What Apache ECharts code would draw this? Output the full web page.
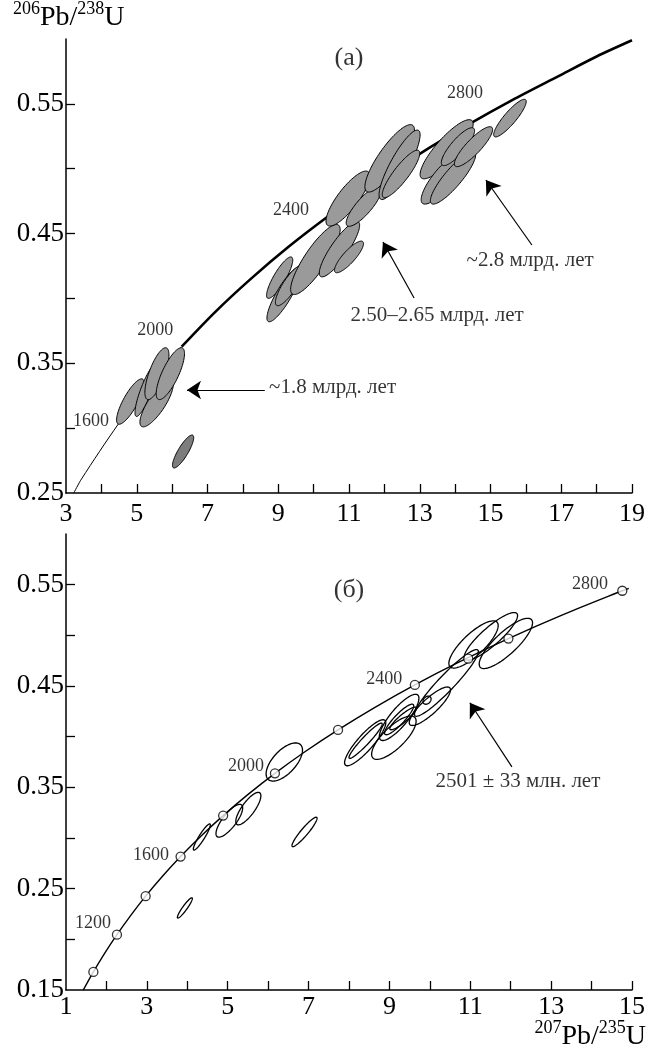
<!DOCTYPE html>
<html>
<head>
<meta charset="utf-8">
<script src="https://cdn.jsdelivr.net/npm/echarts@6/dist/echarts.min.js"></script>
<style>
html,body{margin:0;padding:0;background:#fff;}
#chart{width:656px;height:1048px;}
</style>
</head>
<body>
<div id="chart"></div>
<script>
// ---------- DATA ----------
// Panel (a): concordia curve
const curveA_x = [3.22, 3.44, 4.48, 5.30, 6.27, 7.20, 8.20, 9.30, 10.46, 11.70, 13.00, 14.42, 15.60, 16.91, 18.00, 19.00];
const curveA_y = [0.250, 0.2609, 0.3032, 0.3325, 0.3628, 0.3891, 0.4145, 0.4400, 0.4643, 0.4883, 0.5115, 0.5347, 0.5527, 0.5712, 0.5865, 0.5990];
const curveA_thickFrom = 6.27;
// Panel (a) error ellipses: [207Pb/235U, 206Pb/238U, err x, err y, rho]
const ellipsesA = [
  [4.82, 0.3205, 0.39, 0.0175, 0.81],
  [5.26, 0.329, 0.31, 0.020, 0.85],
  [5.56, 0.319, 0.47, 0.018, 0.80],
  [5.57, 0.342, 0.34, 0.020, 0.72],
  [5.95, 0.342, 0.40, 0.020, 0.77],
  [9.04, 0.416, 0.37, 0.016, 0.85],
  [9.16, 0.403, 0.48, 0.021, 0.86],
  [9.32, 0.410, 0.40, 0.0156, 0.83],
  [10.05, 0.430, 0.70, 0.027, 0.85],
  [10.73, 0.438, 0.57, 0.0214, 0.86],
  [11.00, 0.432, 0.41, 0.0122, 0.84],
  [10.97, 0.477, 0.62, 0.0212, 0.82],
  [11.42, 0.471, 0.50, 0.0154, 0.83],
  [12.15, 0.508, 0.70, 0.026, 0.84],
  [12.43, 0.503, 0.58, 0.0268, 0.86],
  [12.47, 0.496, 0.53, 0.0183, 0.87],
  [13.76, 0.515, 0.75, 0.0228, 0.85],
  [13.63, 0.492, 0.59, 0.0193, 0.82],
  [13.94, 0.493, 0.64, 0.0203, 0.87],
  [14.08, 0.517, 0.47, 0.0146, 0.84],
  [14.52, 0.517, 0.54, 0.0154, 0.86],
  [15.55, 0.539, 0.46, 0.0145, 0.88]
];
const ellipsesA_discordant = [
  [6.31, 0.282, 0.30, 0.0127, 0.84]
];
// Panel (a) labels: [x, y, text]
const ageLabelsA = [[3.71, 0.3055, '1600'], [5.52, 0.3757, '2000'], [9.36, 0.4682, '2400'], [14.28, 0.5584, '2800']];
const notesA = [[13.49, 0.3872, '2.50–2.65 млрд. лет'], [16.12, 0.4296, '~2.8 млрд. лет']];
const notesA_left = [[8.74, 0.331, '~1.8 млрд. лет']];
const panelA = [[11.0, 0.5854, '(а)']];
const arrowsA = [
  [[8.62, 0.3294], [6.42, 0.3294]],
  [[12.84, 0.4003], [11.96, 0.4435]],
  [[16.17, 0.4412], [14.87, 0.4913]]
];

// Panel (б): concordia points (100 Ma steps)
const curveB_x = [1.426, 1.677, 1.955, 2.260, 2.598, 2.970, 3.381, 3.834, 4.335, 4.887, 5.496, 6.168, 6.910, 7.729, 8.632, 9.629, 10.729, 11.943, 13.282, 14.760, 14.92];
const curveB_y = [0.1498, 0.1678, 0.1861, 0.2046, 0.2234, 0.2426, 0.2620, 0.2817, 0.3018, 0.3221, 0.3428, 0.3638, 0.3851, 0.4067, 0.4287, 0.4511, 0.4737, 0.4968, 0.5202, 0.5440, 0.5464];
// Concordia age markers (1000…2800 Ma, every 200 Ma) and intercept marker
const markersB_x = [1.677, 2.260, 2.970, 3.834, 4.887, 6.168, 7.729, 9.629, 11.943, 14.760, 10.95];
const markersB_y = [0.1678, 0.2046, 0.2426, 0.2817, 0.3221, 0.3638, 0.4067, 0.4511, 0.4968, 0.5440, 0.477];
const ellipsesB = [
  [3.94, 0.231, 0.185, 0.0100, 0.93],
  [4.36, 0.301, 0.21, 0.0129, 0.92],
  [5.04, 0.317, 0.33, 0.0162, 0.78],
  [5.51, 0.329, 0.31, 0.0160, 0.79],
  [6.90, 0.306, 0.31, 0.0145, 0.93],
  [6.40, 0.375, 0.45, 0.0188, 0.62],
  [8.40, 0.394, 0.51, 0.0227, 0.87],
  [8.41, 0.396, 0.41, 0.0174, 0.95],
  [9.11, 0.399, 0.55, 0.0214, 0.76],
  [9.24, 0.419, 0.49, 0.0228, 0.83],
  [9.24, 0.417, 0.36, 0.0151, 0.89],
  [9.34, 0.418, 0.33, 0.0112, 0.90],
  [10.00, 0.430, 0.51, 0.0190, 0.85],
  [9.93, 0.436, 0.10, 0.0040, 0.30],
  [10.41, 0.453, 0.79, 0.0329, 0.94],
  [11.08, 0.491, 0.61, 0.0233, 0.80],
  [11.51, 0.499, 0.66, 0.0235, 0.87],
  [11.88, 0.492, 0.66, 0.0248, 0.82]
];
const ageLabelsB = [[1.67, 0.2162, '1200'], [3.10, 0.2833, '1600'], [5.45, 0.3712, '2000'], [8.87, 0.4562, '2400'], [13.96, 0.550, '2800']];
const notesB = [[12.18, 0.3554, '2501 ± 33 млн. лет']];
const panelB = [[8.0, 0.5441, '(б)']];
const arrowsB = [[[12.03, 0.3702], [10.99, 0.4335]]];

// Axes ticks / labels
const xTicksA = [4,5,6,7,8,9,10,11,12,13,14,15,16,17,18,19];
const xLabelsA = [3,5,7,9,11,13,15,17,19];
const yTicksA = [0.30,0.35,0.40,0.45,0.50,0.55];
const yLabelsA = [0.25,0.35,0.45,0.55];
const xTicksB = [2,3,4,5,6,7,8,9,10,11,12,13,14,15];
const xLabelsB = [1,3,5,7,9,11,13,15];
const yTicksB = [0.20,0.25,0.30,0.35,0.40,0.45,0.50,0.55];
const yLabelsB = [0.15,0.25,0.35,0.45,0.55];

// ---------- CHART ----------
const FONT = "'Liberation Serif','Times New Roman',serif";
const chart = echarts.init(document.getElementById('chart'), null, {renderer: 'canvas'});

function zip(xs, ys) { return xs.map((x, i) => [x, ys[i]]); }

function ellipseRenderer(fill, lw) {
  return function (params, api) {
    const cx = api.value(0), cy = api.value(1), sx = api.value(2), sy = api.value(3), r = api.value(4);
    const q = Math.sqrt(1 - r * r);
    const pts = [];
    const N = 90;
    for (let i = 0; i < N; i++) {
      const t = i / N * 2 * Math.PI;
      pts.push(api.coord([cx + sx * Math.cos(t), cy + sy * (r * Math.cos(t) + q * Math.sin(t))]));
    }
    return {type: 'polygon', shape: {points: pts}, style: {fill: fill, stroke: '#000', lineWidth: lw}};
  };
}

function xAxis(idx, min, max, ticks, labels, margin) {
  return {
    gridIndex: idx, type: 'value', min: min, max: max, interval: 1,
    axisLine: {show: true, onZero: false, lineStyle: {color: '#000', width: 1.5}},
    axisTick: {show: true, inside: true, length: 9, customValues: ticks, lineStyle: {color: '#000', width: 1.3}},
    axisLabel: {show: true, customValues: labels, color: '#000', fontFamily: FONT, fontSize: 26, margin: margin},
    splitLine: {show: false}
  };
}
function yAxis(idx, min, max, ticks, labels) {
  return {
    gridIndex: idx, type: 'value', min: min, max: max, interval: 0.05,
    axisLine: {show: true, onZero: false, lineStyle: {color: '#000', width: 1.5}},
    axisTick: {show: true, inside: true, length: 9, customValues: ticks, lineStyle: {color: '#000', width: 1.3}},
    axisLabel: {show: true, customValues: labels, color: '#000', fontFamily: FONT, fontSize: 27, margin: 2,
      formatter: v => Number(v).toFixed(2)},
    splitLine: {show: false}
  };
}
function textSeries(idx, data, size, pos) {
  return {
    type: 'scatter', xAxisIndex: idx, yAxisIndex: idx, symbolSize: 0, silent: true, z: 10,
    data: data.map(d => ({value: [d[0], d[1]], name: d[2]})),
    label: {show: true, position: pos || 'inside', distance: 0, formatter: p => p.name,
      color: '#000', fontFamily: FONT, fontSize: size}
  };
}
function arrowSeries(idx, data) {
  return {
    type: 'lines', coordinateSystem: 'cartesian2d', xAxisIndex: idx, yAxisIndex: idx, silent: true, z: 10,
    symbol: ['none', 'arrow'], symbolSize: [7, 14],
    lineStyle: {color: '#000', width: 1.2, opacity: 1},
    data: data.map(d => ({coords: d}))
  };
}

const thinA = zip(curveA_x, curveA_y).filter(p => p[0] <= curveA_thickFrom);
const thickA = zip(curveA_x, curveA_y).filter(p => p[0] >= curveA_thickFrom);
const titleRich = {
  s: {fontFamily: FONT, fontSize: 18, lineHeight: 18, verticalAlign: 'top', fill: '#000'},
  b: {fontFamily: FONT, fontSize: 28, lineHeight: 32, verticalAlign: 'bottom', fill: '#000'}
};

const option = {
  animation: false,
  backgroundColor: '#fff',
  grid: [
    {left: 66, right: 24, top: 39, height: 454, containLabel: false, outerBoundsMode: 'none'},
    {left: 66, right: 24, top: 534, height: 456, containLabel: false, outerBoundsMode: 'none'}
  ],
  xAxis: [xAxis(0, 3, 19, xTicksA, xLabelsA, 8), xAxis(1, 1, 15, xTicksB, xLabelsB, 4)],
  yAxis: [yAxis(0, 0.25, 0.6, yTicksA, yLabelsA), yAxis(1, 0.15, 0.6, yTicksB, yLabelsB)],
  graphic: [
    {type: 'text', left: 13, top: 0, z: 100, style: {text: '{s|206}{b|Pb/}{s|238}{b|U}', fill: '#000', rich: titleRich}},
    {type: 'text', right: 10, top: 1019, z: 100, style: {text: '{s|207}{b|Pb/}{s|235}{b|U}', fill: '#000', rich: titleRich}}
  ],
  series: [
    // Panel (a)
    {type: 'line', xAxisIndex: 0, yAxisIndex: 0, data: thinA, smooth: 0.3, symbol: 'none',
      lineStyle: {color: '#000', width: 1}, z: 2, silent: true},
    {type: 'line', xAxisIndex: 0, yAxisIndex: 0, data: thickA, smooth: 0.3, symbol: 'none',
      lineStyle: {color: '#000', width: 2.6}, z: 2, silent: true},
    {type: 'custom', xAxisIndex: 0, yAxisIndex: 0, data: ellipsesA_discordant, renderItem: ellipseRenderer('#7d7d7d', 1), z: 3, silent: true},
    {type: 'custom', xAxisIndex: 0, yAxisIndex: 0, data: ellipsesA, renderItem: ellipseRenderer('#9a9a9a', 1), z: 3, silent: true},
    textSeries(0, ageLabelsA, 18),
    textSeries(0, notesA, 21),
    textSeries(0, notesA_left, 21, 'right'),
    textSeries(0, panelA, 26),
    arrowSeries(0, arrowsA),
    // Panel (б)
    {type: 'line', xAxisIndex: 1, yAxisIndex: 1, data: zip(curveB_x, curveB_y), smooth: 0.3, symbol: 'none',
      lineStyle: {color: '#000', width: 1.4}, z: 2, silent: true},
    {type: 'custom', xAxisIndex: 1, yAxisIndex: 1, data: ellipsesB, renderItem: ellipseRenderer('none', 1.3), z: 3, silent: true},
    {type: 'scatter', xAxisIndex: 1, yAxisIndex: 1, data: zip(markersB_x, markersB_y), symbol: 'circle', symbolSize: 9,
      itemStyle: {color: '#fff', borderColor: '#000', borderWidth: 1.3}, z: 5, silent: true},
    textSeries(1, ageLabelsB, 18),
    textSeries(1, notesB, 21),
    textSeries(1, panelB, 26),
    arrowSeries(1, arrowsB)
  ]
};
chart.setOption(option);
</script>
</body>
</html>
